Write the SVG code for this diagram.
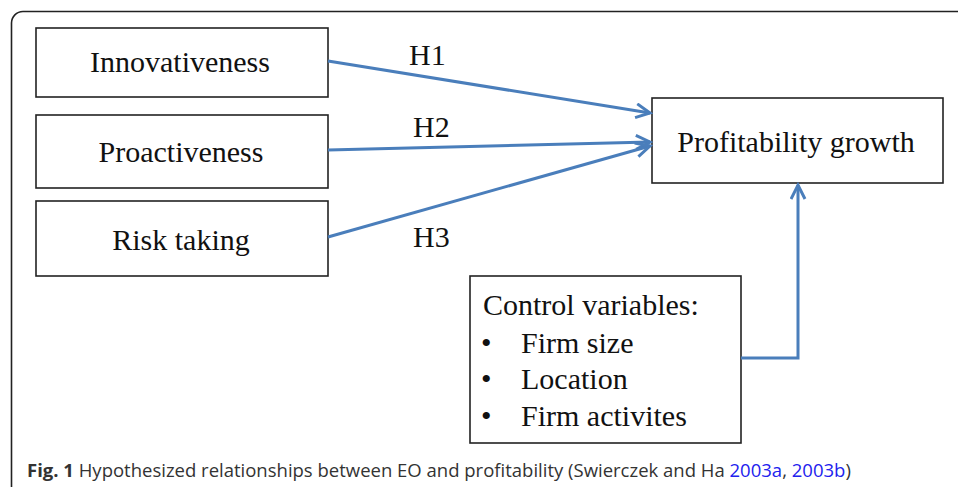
<svg xmlns="http://www.w3.org/2000/svg" width="958" height="487" viewBox="0 0 958 487">
<style>
.box{fill:#fff;stroke:#222;stroke-width:1.6}
.lbl{font-family:"Liberation Serif","Times New Roman",serif;font-size:30px;fill:#111}
.conn{fill:none;stroke:#4a7ebb;stroke-width:3}
.cap{font-family:"Open Sans","Liberation Sans",sans-serif;font-size:18.5px;fill:#333}
</style>
<defs>
<marker id="arr" markerUnits="userSpaceOnUse" markerWidth="20" markerHeight="20" refX="15" refY="8" orient="auto">
<path d="M1,1 L15,8 L1,15" fill="none" stroke="#4a7ebb" stroke-width="3" stroke-linejoin="miter"/>
</marker>
</defs>
<rect width="958" height="487" fill="#fff"/>
<path d="M958,11.5 H23 A11.5,11.5 0 0 0 11.5,23 V487" fill="none" stroke="#222" stroke-width="1.6"/>
<g id="innovativeness"><rect class="box" x="36" y="28" width="292" height="69"/><text class="lbl" x="180" y="72" text-anchor="middle">Innovativeness</text></g>
<g id="proactiveness"><rect class="box" x="36" y="115" width="292" height="73"/><text class="lbl" x="181" y="162" text-anchor="middle">Proactiveness</text></g>
<g id="risk"><rect class="box" x="36" y="201" width="292" height="75"/><text class="lbl" x="181" y="250" text-anchor="middle">Risk taking</text></g>
<g id="profit"><rect class="box" x="652" y="98" width="291" height="85"/><text class="lbl" x="796" y="152" text-anchor="middle">Profitability growth</text></g>
<g id="control"><rect class="box" x="470" y="276" width="271" height="167"/>
<text class="lbl" x="483" y="315">Control variables:</text>
<text class="lbl" x="481" y="353">•</text><text class="lbl" x="521" y="353">Firm size</text>
<text class="lbl" x="481" y="389">•</text><text class="lbl" x="521" y="389">Location</text>
<text class="lbl" x="481" y="426">•</text><text class="lbl" x="521" y="426">Firm activites</text>
</g>
<g id="connectors">
<line class="conn" x1="328" y1="61" x2="650" y2="113" marker-end="url(#arr)"/>
<line class="conn" x1="328" y1="150" x2="650" y2="142" marker-end="url(#arr)"/>
<line class="conn" x1="328" y1="237" x2="650" y2="146" marker-end="url(#arr)"/>
<polyline class="conn" points="741,358 798,358 798,185" marker-end="url(#arr)"/>
<text class="lbl" x="409" y="65">H1</text>
<text class="lbl" x="413" y="137">H2</text>
<text class="lbl" x="413" y="247">H3</text>
</g>
<text class="cap" x="27" y="477"><tspan font-weight="bold">Fig. 1</tspan> Hypothesized relationships between EO and profitability (Swierczek and Ha <tspan fill="#2222ee">2003a</tspan>, <tspan fill="#2222ee">2003b</tspan>)</text>
</svg>
